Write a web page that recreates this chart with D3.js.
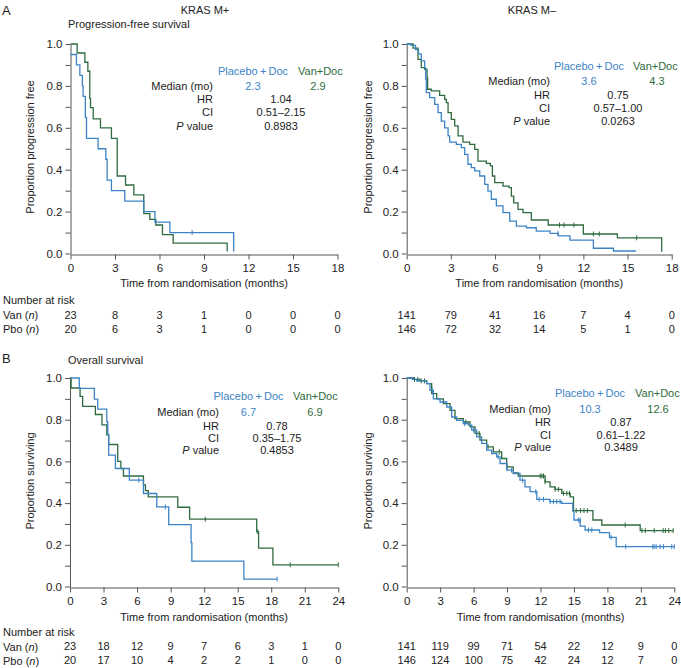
<!DOCTYPE html>
<html>
<head>
<meta charset="utf-8">
<script src="https://cdn.jsdelivr.net/npm/d3@7"></script>
<style>
body { margin: 0; background: #fff; }
svg text { font-family: "Liberation Sans", Arial, sans-serif; font-size: 11px; fill: #222; }
</style>
</head>
<body>
<svg width="681" height="668"></svg>
<script>
// KM step points [month, proportion]
var pfsPosPbo = [[0,0.95],[0.40,0.90],[0.63,0.85],[0.80,0.80],[0.85,0.75],[1.00,0.65],[1.08,0.55],[1.86,0.50],[2.38,0.45],[2.47,0.35],[2.76,0.30],[3.66,0.25],[4.94,0.20],[5.69,0.15],[6.70,0.10],[11.0,0.01]];
var pfsPosVan = [[0,1.0],[0.45,0.957],[0.97,0.913],[1.17,0.87],[1.30,0.74],[1.35,0.696],[1.53,0.643],[2.02,0.60],[2.76,0.55],[3.15,0.37],[3.71,0.327],[4.27,0.28],[4.94,0.19],[5.35,0.163],[5.75,0.136],[6.20,0.09],[6.92,0.05],[10.56,0.01]];
var pfsNegPbo = [[0,1.0],[0.3,0.993],[0.6,0.973],[0.8,0.953],[0.99,0.919],[1.22,0.887],[1.29,0.831],[1.33,0.768],[1.56,0.744],[1.9,0.712],[2.13,0.672],[2.35,0.632],[2.58,0.6],[2.81,0.561],[2.92,0.532],[3.37,0.521],[3.71,0.505],[3.94,0.473],[4.16,0.426],[4.39,0.41],[4.62,0.394],[4.96,0.37],[5.3,0.33],[5.52,0.298],[5.75,0.259],[6.09,0.227],[6.54,0.195],[7.0,0.155],[7.45,0.131],[8.13,0.123],[8.8,0.107],[9.74,0.096],[10.3,0.084],[11.09,0.064],[12.68,0.025],[14.04,0.012],[15.58,0.012]];
var pfsNegVan = [[0,1.0],[0.43,0.98],[0.77,0.927],[0.99,0.887],[1.22,0.879],[1.38,0.839],[1.42,0.784],[1.67,0.776],[2.24,0.755],[2.58,0.736],[2.69,0.72],[2.81,0.672],[3.03,0.64],[3.26,0.609],[3.49,0.561],[3.82,0.532],[4.28,0.521],[4.62,0.497],[4.84,0.441],[5.41,0.43],[5.68,0.418],[5.82,0.37],[5.98,0.338],[6.54,0.322],[6.95,0.314],[7.11,0.274],[7.27,0.242],[7.56,0.211],[7.9,0.195],[8.47,0.16],[9.61,0.136],[12.0,0.093],[14.31,0.075],[17.32,0.008]];
var osPosPbo = [[0,1.0],[0.83,0.95],[2.18,0.899],[2.48,0.851],[3.29,0.79],[3.38,0.729],[3.46,0.63],[4.06,0.566],[5.31,0.51],[6.57,0.446],[7.76,0.382],[8.83,0.297],[10.83,0.21],[10.9,0.122],[15.55,0.035],[18.53,0.035]];
var osPosVan = [[0,1.0],[0.1,0.952],[0.9,0.912],[1.13,0.864],[2.27,0.825],[2.86,0.775],[3.29,0.727],[3.46,0.681],[4.27,0.60],[4.55,0.566],[4.78,0.53],[6.57,0.487],[6.75,0.46],[7.0,0.43],[9.64,0.38],[10.7,0.323],[16.7,0.264],[16.87,0.184],[18.15,0.104],[24.0,0.104]];
var osNegPbo = [[0,1.0],[0.5,0.993],[0.9,0.986],[1.79,0.973],[2.09,0.941],[2.39,0.90],[2.99,0.885],[3.59,0.861],[4.03,0.813],[4.48,0.797],[5.08,0.781],[5.53,0.774],[5.83,0.75],[6.28,0.718],[6.72,0.686],[7.17,0.654],[7.62,0.638],[8.07,0.622],[8.37,0.59],[8.97,0.558],[9.56,0.542],[10.16,0.51],[10.61,0.478],[11.07,0.455],[11.67,0.418],[12.86,0.407],[13.91,0.399],[14.9,0.36],[15.0,0.319],[15.56,0.29],[16.0,0.271],[17.3,0.258],[18.19,0.236],[18.79,0.191],[24.0,0.191]];
var osNegVan = [[0,1.0],[0.6,0.993],[1.2,0.986],[1.79,0.973],[2.24,0.925],[2.69,0.90],[3.29,0.877],[3.89,0.845],[4.33,0.805],[5.08,0.789],[5.68,0.766],[6.13,0.734],[6.57,0.702],[7.17,0.67],[7.77,0.646],[8.52,0.614],[8.97,0.574],[9.56,0.545],[10.0,0.53],[12.41,0.502],[12.86,0.478],[13.31,0.466],[13.91,0.447],[14.66,0.43],[14.96,0.364],[16.7,0.319],[17.5,0.295],[20.94,0.268],[23.9,0.268]];

// censoring times (months)
var pfsPosPboCens = [8.2];
var pfsPosVanCens = [];
var pfsNegPboCens = [10.27];
var pfsNegVanCens = [10.38, 10.68, 11.36, 12.68, 13.08, 15.62];
var osPosPboCens = [6.15, 8.53, 18.53];
var osPosVanCens = [12.1, 16.75, 19.7, 24.0];
var osNegPboCens = [2.3, 5.2, 6.0, 8.2, 9.4, 10.4, 11.58, 11.88, 12.27, 12.86, 13.16, 13.46, 13.76, 15.4, 15.55, 16.3, 16.6, 18.33, 19.64, 22.07, 22.19, 22.37, 22.73, 23.03, 23.77, 24.0];
var osNegVanCens = [0.7, 1.0, 1.3, 1.6, 5.3, 6.5, 7.3, 8.3, 9.0, 11.97, 12.12, 12.27, 12.41, 13.31, 13.61, 14.06, 14.36, 14.6, 15.2, 15.6, 15.9, 16.2, 19.6, 21.1, 21.4, 22.2, 23.0, 23.2, 23.5, 23.9];

// median pbo, median van, HR, CI, P
var pfsPosStats = ["2.3", "2.9", "1.04", "0.51\u20132.15", "0.8983"];
var pfsNegStats = ["3.6", "4.3", "0.75", "0.57\u20131.00", "0.0263"];
var osPosStats = ["6.7", "6.9", "0.78", "0.35\u20131.75", "0.4853"];
var osNegStats = ["10.3", "12.6", "0.87", "0.61\u20131.22", "0.3489"];

// number at risk
var pfsTimes = [0, 3, 6, 9, 12, 15, 18];
var osTimes = [0, 3, 6, 9, 12, 15, 18, 21, 24];
var pfsPosVanN = [23, 8, 3, 1, 0, 0, 0];
var pfsPosPboN = [20, 6, 3, 1, 0, 0, 0];
var pfsNegVanN = [141, 79, 41, 16, 7, 4, 0];
var pfsNegPboN = [146, 72, 32, 14, 5, 1, 0];
var osPosVanN = [23, 18, 12, 9, 7, 6, 3, 1, 0];
var osPosPboN = [20, 17, 10, 4, 2, 2, 1, 0, 0];
var osNegVanN = [141, 119, 99, 71, 54, 22, 12, 9, 0];
var osNegPboN = [146, 124, 100, 75, 42, 24, 12, 7, 0];

var blue = "#3d84c6";
var green = "#2f6b3e";
var axisCol = "#555";

var svg = d3.select("svg");

function stepAt(curve, t) {
    var s = curve[0][1];
    for (var i = 0; i < curve.length; i++) {
        if (curve[i][0] <= t) s = curve[i][1];
    }
    return s;
}

function panel(o) {
    var x = d3.scaleLinear().domain([0, o.times[o.times.length - 1]]).range([o.x0, o.x1]);
    var y = d3.scaleLinear().domain([0, 1]).range([o.y0, o.y1]);
    var g = svg.append("g");

    var ya = g.append("g")
        .attr("transform", "translate(" + o.x0 + ",0)")
        .call(d3.axisLeft(y)
            .tickValues(d3.range(11).map(function(i) { return i / 10; }))
            .tickFormat(function(d) { return Math.round(d * 10) % 2 == 0 ? d.toFixed(1) : ""; })
            .tickSize(5).tickSizeOuter(0).tickPadding(3));
    var xa = g.append("g")
        .attr("transform", "translate(0," + (o.y0 + 1) + ")")
        .call(d3.axisBottom(x).tickValues(o.times).tickSize(5).tickSizeOuter(0).tickPadding(4));
    [ya, xa].forEach(function(a) {
        a.attr("font-size", null).attr("font-family", null);
        a.selectAll("path, line").attr("stroke", axisCol);
        a.selectAll("text").style("font-size", "11.5px");
    });

    g.append("text")
        .attr("transform", "translate(" + o.titleX + "," + o.titleY + ") rotate(-90)")
        .attr("text-anchor", "middle")
        .text(o.ytitle);
    g.append("text")
        .attr("x", (o.x0 + o.x1) / 2).attr("y", o.xtitleY)
        .attr("text-anchor", "middle")
        .text("Time from randomisation (months)");

    var line = d3.line()
        .x(function(d) { return x(d[0]); })
        .y(function(d) { return y(d[1]); })
        .curve(d3.curveStepAfter);

    [[o.van, o.vanCens, green], [o.pbo, o.pboCens, blue]].forEach(function(c) {
        g.append("path").datum(c[0])
            .attr("d", line)
            .attr("fill", "none")
            .attr("stroke", c[2])
            .attr("stroke-width", 1.3);
        g.selectAll(null).data(c[1]).enter().append("line")
            .attr("x1", function(d) { return x(d); })
            .attr("x2", function(d) { return x(d); })
            .attr("y1", function(d) { return y(stepAt(c[0], d)) - 2.5; })
            .attr("y2", function(d) { return y(stepAt(c[0], d)) + 2.5; })
            .attr("stroke", c[2])
            .attr("stroke-width", 1);
    });

    // stats block
    g.append("text").attr("x", o.pboX).attr("y", o.legY).attr("text-anchor", "middle")
        .style("fill", blue).text("Placebo\u2009+\u2009Doc");
    g.append("text").attr("x", o.vanX).attr("y", o.legY)
        .style("fill", green).text("Van+Doc");
    var labels = ["Median (mo)", "HR", "CI", "P value"];
    labels.forEach(function(l, i) {
        var t = g.append("text").attr("x", o.labelR).attr("y", o.rows[i]).attr("text-anchor", "end");
        if (l == "P value") {
            t.append("tspan").style("font-style", "italic").text("P");
            t.append("tspan").text(" value");
        } else {
            t.text(l);
        }
    });
    g.append("text").attr("x", o.pboX).attr("y", o.rows[0]).attr("text-anchor", "middle")
        .style("fill", blue).text(o.stats[0]);
    g.append("text").attr("x", o.vanValX).attr("y", o.rows[0]).attr("text-anchor", "middle")
        .style("fill", green).text(o.stats[1]);
    for (var i = 2; i < 5; i++) {
        g.append("text").attr("x", o.midX).attr("y", o.rows[i - 1]).attr("text-anchor", "middle")
            .text(o.stats[i]);
    }

    // number at risk
    [[o.vanN, o.riskY[0]], [o.pboN, o.riskY[1]]].forEach(function(r) {
        g.selectAll(null).data(r[0]).enter().append("text")
            .attr("x", function(d, i) { return x(o.times[i]); })
            .attr("y", r[1])
            .attr("text-anchor", "middle")
            .text(function(d) { return d; });
    });
}

function riskLabels(y0) {
    svg.append("text").attr("x", 3).attr("y", y0).text("Number at risk");
    [["Van (", y0 + 15], ["Pbo (", y0 + 29]].forEach(function(r) {
        var t = svg.append("text").attr("x", 3).attr("y", r[1]);
        t.append("tspan").text(r[0]);
        t.append("tspan").style("font-style", "italic").text("n");
        t.append("tspan").text(")");
    });
}

panel({ x0: 70.5, x1: 337.5, y0: 253.5, y1: 44, times: pfsTimes,
    pbo: pfsPosPbo, van: pfsPosVan, pboCens: pfsPosPboCens, vanCens: pfsPosVanCens,
    ytitle: "Proportion progression free", titleX: 34, titleY: 147, xtitleY: 287,
    stats: pfsPosStats, legY: 75, rows: [90, 103, 116, 130], labelR: 213, pboX: 253, vanX: 298, vanValX: 318, midX: 281,
    vanN: pfsPosVanN, pboN: pfsPosPboN, riskY: [319, 333] });
panel({ x0: 406.7, x1: 671.7, y0: 253.5, y1: 44, times: pfsTimes,
    pbo: pfsNegPbo, van: pfsNegVan, pboCens: pfsNegPboCens, vanCens: pfsNegVanCens,
    ytitle: "Proportion progression free", titleX: 372, titleY: 147, xtitleY: 287,
    stats: pfsNegStats, legY: 70, rows: [85, 99, 112, 125], labelR: 550, pboX: 589, vanX: 633, vanValX: 657, midX: 618,
    vanN: pfsNegVanN, pboN: pfsNegPboN, riskY: [319, 333] });
panel({ x0: 70, x1: 338.3, y0: 586.5, y1: 378, times: osTimes,
    pbo: osPosPbo, van: osPosVan, pboCens: osPosPboCens, vanCens: osPosVanCens,
    ytitle: "Proportion surviving", titleX: 34, titleY: 481, xtitleY: 621,
    stats: osPosStats, legY: 400, rows: [416, 429.5, 442, 454], labelR: 219, pboX: 248.5, vanX: 293, vanValX: 315, midX: 277,
    vanN: osPosVanN, pboN: osPosPboN, riskY: [650, 664] });
panel({ x0: 406.7, x1: 674.3, y0: 586.5, y1: 378, times: osTimes,
    pbo: osNegPbo, van: osNegVan, pboCens: osNegPboCens, vanCens: osNegVanCens,
    ytitle: "Proportion surviving", titleX: 372, titleY: 481, xtitleY: 621,
    stats: osNegStats, legY: 397, rows: [413, 425.5, 439, 451], labelR: 551, pboX: 590, vanX: 635, vanValX: 658, midX: 621,
    vanN: osNegVanN, pboN: osNegPboN, riskY: [650, 664] });

riskLabels(304);
riskLabels(636);

svg.append("text").attr("x", 2).attr("y", 15).style("font-size", "13px").text("A");
svg.append("text").attr("x", 2).attr("y", 363).style("font-size", "13px").text("B");
svg.append("text").attr("x", 205).attr("y", 14).attr("text-anchor", "middle").text("KRAS M+");
svg.append("text").attr("x", 532).attr("y", 14).attr("text-anchor", "middle").text("KRAS M\u2013");
svg.append("text").attr("x", 68).attr("y", 28).text("Progression-free survival");
svg.append("text").attr("x", 68).attr("y", 364).text("Overall survival");
</script>
</body>
</html>
